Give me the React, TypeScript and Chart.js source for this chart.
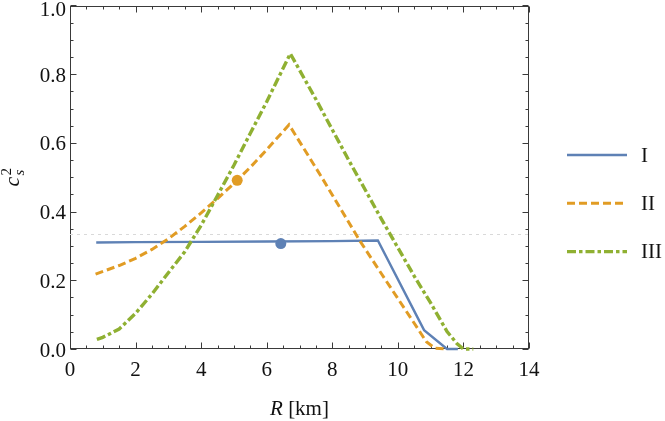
import React, { useEffect, useRef } from "react";
import { Chart, registerables } from "chart.js";

Chart.register(...registerables);

// Radius in km and squared sound speed for the three profiles
const radiusI = [0.8, 2.0, 4.0, 6.0, 8.0, 9.39, 10.8, 11.5, 11.83];
const cs2I = [0.31, 0.311, 0.312, 0.313, 0.314, 0.316, 0.055, 0.0, 0.0];

const radiusII = [0.78, 1.5, 2.0, 2.5, 3.0, 3.5, 4.0, 4.5, 5.0, 5.5, 6.0, 6.68, 7.67, 8.84, 9.5, 10.0, 10.5, 10.87, 11.13, 11.5];
const cs2II = [0.218, 0.243, 0.264, 0.29, 0.321, 0.357, 0.396, 0.438, 0.482, 0.529, 0.58, 0.653, 0.501, 0.315, 0.219, 0.147, 0.075, 0.021, 0.002, 0.0];

const radiusIII = [0.82, 1.0, 1.5, 2.0, 2.5, 3.0, 3.5, 4.0, 4.5, 5.0, 5.5, 6.0, 6.72, 7.5, 8.5, 9.5, 10.5, 11.0, 11.5, 11.8, 12.0, 12.3];
const cs2III = [0.028, 0.034, 0.058, 0.104, 0.16, 0.222, 0.283, 0.36, 0.447, 0.535, 0.628, 0.72, 0.86, 0.727, 0.55, 0.378, 0.212, 0.134, 0.051, 0.016, 0.0, 0.0];

// Marked configurations
const markRadius = [6.43, 5.1];
const markCs2 = [0.307, 0.491];

// Conformal limit c_s^2 = 1/3
const conformalR = [0, 14];
const conformalCs2 = [1 / 3, 1 / 3];

const seriesLabels = ["I", "II", "III"];
const seriesColors = ["#5E81B5", "#E19C24", "#8FB032"];
const seriesDash: number[][] = [[], [8, 4], [9, 3, 3.5, 3]];
const seriesWidth = [2.4, 3, 3.4];

const xTickStep = 2;
const yTickStep = 0.2;

const FONT = "'Liberation Serif'";
const FRAME = "#3a3a3a";
const TEXT = "#111111";

Chart.defaults.font.family = FONT;

const pts = (xs: number[], ys: number[]) => xs.map((x, i) => ({ x, y: ys[i] }));

const framePlugin = {
  id: "frameTicks",
  beforeDatasetsDraw(chart: any) {
    const { ctx, chartArea, scales } = chart;
    const { left, right, top, bottom } = chartArea;
    const xs = scales.x;
    const ys = scales.y;
    ctx.save();
    ctx.strokeStyle = FRAME;
    ctx.lineWidth = 1;
    const L = Math.round(left) + 0.5;
    const R = Math.round(right) - 0.5;
    const T = Math.round(top) + 0.5;
    const B = Math.round(bottom) - 0.5;
    ctx.strokeRect(L, T, R - L, B - T);
    ctx.beginPath();
    for (let v = 0; v <= 14.0001; v += 0.5) {
      const px = Math.round(xs.getPixelForValue(v)) + 0.5;
      const len = Math.abs(v / xTickStep - Math.round(v / xTickStep)) < 1e-6 ? 6 : 3;
      ctx.moveTo(px, B);
      ctx.lineTo(px, B - len);
      ctx.moveTo(px, T);
      ctx.lineTo(px, T + len);
    }
    for (let v = 0; v <= 1.0001; v += 0.05) {
      const py = Math.round(ys.getPixelForValue(v)) + 0.5;
      const len = Math.abs(v / yTickStep - Math.round(v / yTickStep)) < 1e-6 ? 6 : 3;
      ctx.moveTo(L, py);
      ctx.lineTo(L + len, py);
      ctx.moveTo(R, py);
      ctx.lineTo(R - len, py);
    }
    ctx.stroke();
    ctx.restore();
  },
  afterDraw(chart: any) {
    const { ctx, chartArea } = chart;
    const { left, right, top, bottom } = chartArea;
    ctx.save();
    ctx.fillStyle = TEXT;

    // x-axis title: R [km]
    ctx.textBaseline = "alphabetic";
    ctx.font = `italic 21px ${FONT}`;
    const rW = ctx.measureText("R").width;
    ctx.font = `21px ${FONT}`;
    const unitW = ctx.measureText(" [km]").width;
    const cx = (left + right) / 2;
    const sx = cx - (rW + unitW) / 2;
    ctx.font = `italic 21px ${FONT}`;
    ctx.fillText("R", sx, 415);
    ctx.font = `21px ${FONT}`;
    ctx.fillText(" [km]", sx + rW, 415);

    // y-axis title: c_s^2, rotated
    ctx.save();
    ctx.translate(19, (top + bottom) / 2);
    ctx.rotate(-Math.PI / 2);
    ctx.font = `italic 22px ${FONT}`;
    const cW = ctx.measureText("c").width;
    ctx.font = `15px ${FONT}`;
    const supW = ctx.measureText("2").width;
    const total = cW + supW + 1;
    const bx = -total / 2;
    ctx.font = `italic 22px ${FONT}`;
    ctx.fillText("c", bx, 0);
    ctx.font = `15px ${FONT}`;
    ctx.fillText("2", bx + cW + 1, -8);
    ctx.font = `italic 15px ${FONT}`;
    ctx.fillText("s", bx + cW + 1, 5);
    ctx.restore();

    // Legend
    const lx0 = 567;
    const lx1 = 627;
    const ly0 = 155;
    const gap = 48.3;
    seriesLabels.forEach((lab, i) => {
      const y = ly0 + i * gap;
      ctx.save();
      ctx.strokeStyle = seriesColors[i];
      ctx.lineWidth = seriesWidth[i];
      ctx.setLineDash(seriesDash[i]);
      ctx.beginPath();
      ctx.moveTo(lx0, y);
      ctx.lineTo(lx1, y);
      ctx.stroke();
      ctx.restore();
      ctx.font = `21px ${FONT}`;
      ctx.textBaseline = "middle";
      ctx.fillStyle = TEXT;
      ctx.fillText(lab, 641, y + 1);
    });
    ctx.restore();
  },
};

export default function App() {
  const ref = useRef<HTMLCanvasElement | null>(null);

  useEffect(() => {
    if (!ref.current) return;
    const lineSets = [
      { x: radiusI, y: cs2I },
      { x: radiusII, y: cs2II },
      { x: radiusIII, y: cs2III },
    ].map((s, i) => ({
      label: seriesLabels[i],
      data: pts(s.x, s.y),
      showLine: true,
      borderColor: seriesColors[i],
      backgroundColor: seriesColors[i],
      borderWidth: seriesWidth[i],
      borderDash: seriesDash[i],
      pointRadius: 0,
      tension: 0,
      clip: false as any,
      order: 3 - i,
    }));

    const isTop = (c: any) => c && c.tick && Math.abs(c.tick.value - 1) < 1e-9;

    const chart = new Chart(ref.current, {
      type: "scatter",
      data: {
        datasets: [
          {
            label: "marks",
            data: pts(markRadius, markCs2),
            showLine: false,
            pointRadius: 5.5,
            pointBackgroundColor: [seriesColors[0], seriesColors[1]],
            pointBorderWidth: 0,
            order: 0,
            clip: false as any,
          },
          ...lineSets,
          {
            label: "conformal",
            data: pts(conformalR, conformalCs2),
            showLine: true,
            borderColor: "#d9d9d9",
            borderWidth: 1,
            borderDash: [3, 4],
            pointRadius: 0,
            order: 5,
          },
        ] as any,
      },
      options: {
        responsive: false,
        animation: false,
        devicePixelRatio: 1,
        layout: { padding: { top: 5, right: 136, left: 0, bottom: 0 } },
        plugins: {
          legend: { display: false },
          tooltip: { enabled: false },
        },
        scales: {
          x: {
            type: "linear",
            min: 0,
            max: 14,
            grid: { display: false, drawTicks: false },
            border: { display: false },
            ticks: {
              stepSize: xTickStep,
              padding: 9,
              color: TEXT,
              font: { family: FONT, size: 21 },
              maxRotation: 0,
            },
            afterFit: (s: any) => {
              s.height = 72;
              s.paddingLeft = 0;
              s.paddingRight = 0;
            },
          },
          y: {
            type: "linear",
            min: 0,
            max: 1,
            grid: { display: false, drawTicks: false },
            border: { display: false },
            ticks: {
              stepSize: yTickStep,
              padding: 4,
              labelOffset: 2,
              color: TEXT,
              // the top label sits a little lower so it stays inside the canvas
              font: (c: any) => ({ family: FONT, size: 21, lineHeight: isTop(c) ? 0.25 : 1.2 }),
              callback: (v: any) => (Math.abs(Number(v) - 1) < 1e-9 ? ["", "1.0"] : Number(v).toFixed(1)),
            },
            afterFit: (s: any) => {
              s.width = 70;
              s.paddingTop = 0;
              s.paddingBottom = 0;
            },
          },
        },
      },
      plugins: [framePlugin],
    });
    return () => chart.destroy();
  }, []);

  return (
    <div style={{ position: "fixed", left: 0, top: 0, width: 665, height: 421, background: "#fff" }}>
      <canvas ref={ref} width={665} height={421} />
    </div>
  );
}
